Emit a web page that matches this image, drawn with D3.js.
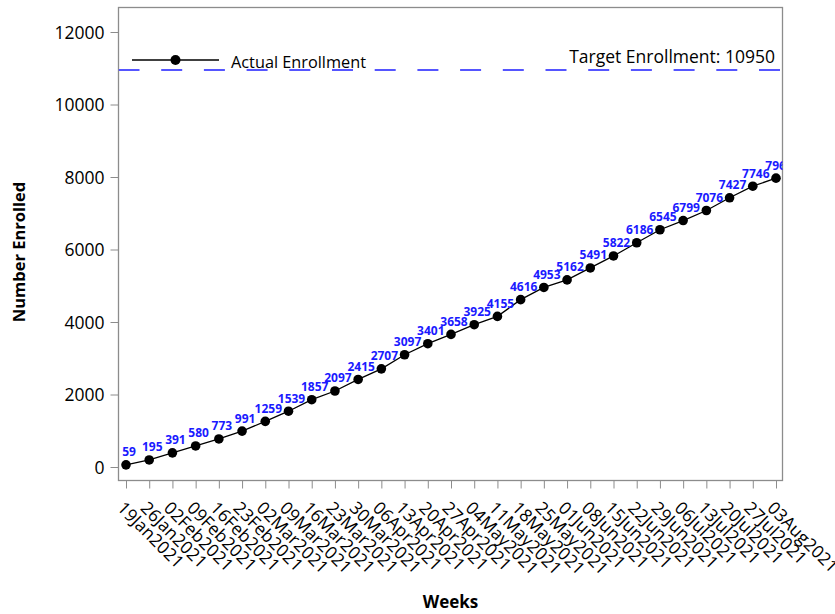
<!DOCTYPE html>
<html>
<head>
<meta charset="utf-8">
<script src="https://cdn.jsdelivr.net/npm/d3@7"></script>
<style>
  html, body { margin: 0; padding: 0; background: #fff; }
  svg { display: block; font-family: "Open Sans", "Noto Sans", sans-serif; }
</style>
</head>
<body>
<svg id="chart" width="835" height="614"></svg>
<script>
const weeks = ["19Jan2021","26Jan2021","02Feb2021","09Feb2021","16Feb2021","23Feb2021","02Mar2021","09Mar2021","16Mar2021","23Mar2021","30Mar2021","06Apr2021","13Apr2021","20Apr2021","27Apr2021","04May2021","11May2021","18May2021","25May2021","01Jun2021","08Jun2021","15Jun2021","22Jun2021","29Jun2021","06Jul2021","13Jul2021","20Jul2021","27Jul2021","03Aug2021"];
const enrolled = [59,195,391,580,773,991,1259,1539,1857,2097,2415,2707,3097,3401,3658,3925,4155,4616,4953,5162,5491,5822,6186,6545,6799,7076,7427,7746,7968];
const yTicks = [0,2000,4000,6000,8000,10000,12000];
const target = 10950;
const targetLabel = "Target Enrollment: " + target;
const seriesName = "Actual Enrollment";
const xTitle = "Weeks";
const yTitle = "Number Enrolled";

const svg = d3.select("#chart");
const frame = { left: 118.5, right: 782.5, top: 7.5, bottom: 480.5 };

const x = d3.scalePoint().domain(weeks).range([126, 776]);
const y = d3.scaleLinear().domain([0, 12000]).range([467, 32]);

const gray = "#8c8c8c";

svg.append("defs").append("clipPath").attr("id", "clip")
  .append("rect").attr("x", frame.left).attr("y", frame.top)
  .attr("width", frame.right - frame.left).attr("height", frame.bottom - frame.top);

// Y axis
const yAxis = svg.append("g").attr("transform", `translate(${frame.left},0)`)
  .call(d3.axisLeft(y).tickValues(yTicks).tickSize(8).tickPadding(6).tickFormat(d3.format("d")));
yAxis.select(".domain").remove();
yAxis.selectAll(".tick line").attr("stroke", gray);
yAxis.selectAll(".tick text").attr("font-size", 17.5).attr("fill", "#000")
  .attr("font-family", "'Open Sans', sans-serif").attr("dy", "0.35em");

// X axis
const xAxis = svg.append("g").attr("transform", `translate(0,${frame.bottom})`)
  .call(d3.axisBottom(x).tickSize(8).tickPadding(0));
xAxis.select(".domain").remove();
xAxis.selectAll(".tick line").attr("stroke", gray);
xAxis.selectAll(".tick text")
  .attr("font-size", 17.5).attr("fill", "#000")
  .attr("font-family", "'Open Sans', sans-serif")
  .attr("text-anchor", "start")
  .attr("x", 1).attr("y", 0).attr("dy", "0.72em")
  .attr("transform", "translate(-2,19) rotate(45)");

// frame
svg.append("rect")
  .attr("x", frame.left).attr("y", frame.top)
  .attr("width", frame.right - frame.left).attr("height", frame.bottom - frame.top)
  .attr("fill", "none").attr("stroke", gray).attr("stroke-width", 1.3);

const plot = svg.append("g").attr("clip-path", "url(#clip)");

// target line
plot.append("line")
  .attr("x1", frame.left).attr("x2", frame.right)
  .attr("y1", y(target)).attr("y2", y(target))
  .attr("stroke", "#5555ff").attr("stroke-width", 2)
  .attr("stroke-dasharray", "21,21.7");

// series line
plot.append("path").datum(enrolled)
  .attr("fill", "none").attr("stroke", "#000").attr("stroke-width", 1.3)
  .attr("d", d3.line().x((d, i) => x(weeks[i])).y(d => y(d)));

plot.selectAll("circle.pt").data(enrolled).join("circle")
  .attr("class", "pt")
  .attr("cx", (d, i) => x(weeks[i])).attr("cy", d => y(d)).attr("r", 4.8)
  .attr("fill", "#000");

plot.selectAll("text.lbl").data(enrolled).join("text")
  .attr("class", "lbl")
  .attr("x", (d, i) => x(weeks[i]) + 3).attr("y", d => y(d) - 8.5)
  .attr("text-anchor", "middle")
  .attr("font-size", 12).attr("font-weight", "bold").attr("fill", "#1a1aff")
  .text(d => d);

// legend
const lg = svg.append("g");
lg.append("line").attr("x1", 132).attr("x2", 219).attr("y1", 60).attr("y2", 60)
  .attr("stroke", "#000").attr("stroke-width", 1.3);
lg.append("circle").attr("cx", 175.5).attr("cy", 60).attr("r", 5).attr("fill", "#000");
lg.append("text").attr("x", 231).attr("y", 68).attr("font-size", 16.3).attr("fill", "#000")
  .text(seriesName);

// target label
svg.append("text").attr("x", 775).attr("y", 63).attr("text-anchor", "end")
  .attr("font-size", 17.5).attr("fill", "#000").text(targetLabel);

// axis titles
svg.append("text").attr("x", (frame.left + frame.right) / 2).attr("y", 608)
  .attr("text-anchor", "middle").attr("font-size", 17).attr("font-weight", "bold")
  .text(xTitle);
svg.append("text")
  .attr("transform", `translate(25,${(frame.top + frame.bottom) / 2 + 8}) rotate(-90)`)
  .attr("text-anchor", "middle").attr("font-size", 16.5).attr("font-weight", "bold")
  .text(yTitle);
</script>
</body>
</html>
